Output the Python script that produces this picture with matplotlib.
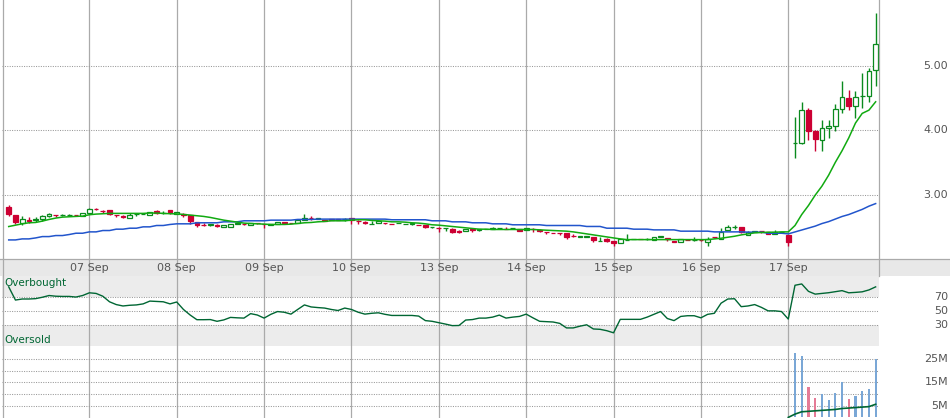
import matplotlib
matplotlib.use("Agg")
import matplotlib.pyplot as plt
import matplotlib.transforms as mtransforms
from matplotlib.lines import Line2D
from matplotlib.patches import Rectangle
import numpy as np

# half-hour candles, 13 per session
opens = [
    2.807, 2.676, 2.557, 2.609, 2.598, 2.614, 2.666, 2.690, 2.685, 2.685, 2.690, 2.666, 2.713,
    2.783, 2.748, 2.755, 2.690, 2.664, 2.640, 2.700, 2.700, 2.687, 2.744, 2.716, 2.755, 2.692,
    2.695, 2.676, 2.572, 2.533, 2.533, 2.522, 2.499, 2.494, 2.546, 2.550, 2.520, 2.565, 2.550,
    2.520, 2.536, 2.572, 2.565, 2.557, 2.609, 2.637, 2.624, 2.598, 2.614, 2.614, 2.622, 2.640,
    2.592, 2.568, 2.544, 2.562, 2.565, 2.550, 2.560, 2.546, 2.536, 2.533, 2.520, 2.492, 2.484,
    2.480, 2.458, 2.430, 2.432, 2.460, 2.455, 2.458, 2.458, 2.480, 2.460, 2.482, 2.468, 2.452,
    2.470, 2.444, 2.418, 2.408, 2.408, 2.400, 2.364, 2.348, 2.348, 2.348, 2.275, 2.312, 2.286,
    2.244, 2.298, 2.310, 2.314, 2.310, 2.302, 2.338, 2.322, 2.273, 2.270, 2.298, 2.294, 2.298,
    2.260, 2.340, 2.312, 2.452, 2.492, 2.494, 2.380, 2.424, 2.434, 2.416, 2.390, 2.414, 2.374,
    3.795, 3.795, 4.310, 3.990, 3.840, 4.030, 4.060, 4.330, 4.500, 4.370, 4.525, 4.530, 4.930,
]
highs = [
    2.838, 2.676, 2.661, 2.650, 2.650, 2.676, 2.718, 2.690, 2.702, 2.702, 2.690, 2.713, 2.791,
    2.786, 2.765, 2.755, 2.690, 2.676, 2.718, 2.703, 2.705, 2.728, 2.755, 2.744, 2.755, 2.728,
    2.718, 2.676, 2.572, 2.562, 2.536, 2.546, 2.520, 2.536, 2.562, 2.550, 2.562, 2.565, 2.550,
    2.550, 2.572, 2.572, 2.565, 2.624, 2.692, 2.671, 2.640, 2.598, 2.614, 2.614, 2.640, 2.640,
    2.609, 2.588, 2.588, 2.588, 2.565, 2.550, 2.563, 2.549, 2.562, 2.533, 2.520, 2.495, 2.494,
    2.484, 2.478, 2.452, 2.458, 2.460, 2.468, 2.468, 2.494, 2.484, 2.494, 2.485, 2.468, 2.484,
    2.484, 2.468, 2.418, 2.408, 2.408, 2.400, 2.390, 2.351, 2.351, 2.348, 2.338, 2.322, 2.286,
    2.312, 2.390, 2.313, 2.314, 2.322, 2.338, 2.364, 2.322, 2.273, 2.312, 2.298, 2.348, 2.312,
    2.338, 2.348, 2.484, 2.520, 2.520, 2.494, 2.442, 2.428, 2.442, 2.416, 2.452, 2.417, 2.374,
    4.200, 4.440, 4.350, 4.000, 4.160, 4.160, 4.400, 4.770, 4.620, 4.610, 4.880, 4.960, 5.820,
]
lows = [
    2.661, 2.541, 2.520, 2.562, 2.572, 2.588, 2.650, 2.650, 2.661, 2.661, 2.666, 2.661, 2.702,
    2.755, 2.718, 2.676, 2.650, 2.640, 2.640, 2.666, 2.695, 2.687, 2.702, 2.702, 2.702, 2.692,
    2.650, 2.546, 2.494, 2.510, 2.515, 2.494, 2.499, 2.494, 2.540, 2.520, 2.520, 2.546, 2.478,
    2.520, 2.536, 2.536, 2.555, 2.557, 2.609, 2.598, 2.624, 2.585, 2.598, 2.598, 2.588, 2.546,
    2.536, 2.536, 2.544, 2.560, 2.536, 2.546, 2.560, 2.546, 2.520, 2.525, 2.478, 2.478, 2.416,
    2.432, 2.400, 2.400, 2.432, 2.416, 2.432, 2.458, 2.458, 2.480, 2.458, 2.458, 2.442, 2.452,
    2.416, 2.416, 2.390, 2.400, 2.380, 2.307, 2.338, 2.338, 2.345, 2.270, 2.275, 2.260, 2.208,
    2.244, 2.296, 2.307, 2.310, 2.302, 2.302, 2.338, 2.275, 2.270, 2.270, 2.294, 2.275, 2.275,
    2.208, 2.322, 2.312, 2.452, 2.468, 2.400, 2.380, 2.420, 2.400, 2.390, 2.390, 2.414, 2.208,
    3.570, 3.780, 3.850, 3.680, 3.680, 3.880, 3.980, 4.270, 4.320, 4.190, 4.350, 4.440, 4.690,
]
closes = [
    2.702, 2.572, 2.624, 2.588, 2.624, 2.666, 2.692, 2.685, 2.690, 2.690, 2.685, 2.713, 2.781,
    2.776, 2.740, 2.692, 2.684, 2.658, 2.687, 2.703, 2.703, 2.728, 2.718, 2.719, 2.728, 2.728,
    2.690, 2.588, 2.531, 2.528, 2.536, 2.518, 2.520, 2.536, 2.562, 2.546, 2.562, 2.560, 2.546,
    2.546, 2.572, 2.552, 2.562, 2.609, 2.635, 2.632, 2.640, 2.588, 2.598, 2.598, 2.626, 2.609,
    2.588, 2.562, 2.548, 2.588, 2.560, 2.546, 2.563, 2.549, 2.562, 2.528, 2.494, 2.495, 2.480,
    2.484, 2.421, 2.425, 2.458, 2.455, 2.458, 2.468, 2.478, 2.484, 2.458, 2.485, 2.442, 2.484,
    2.466, 2.440, 2.414, 2.404, 2.404, 2.348, 2.360, 2.351, 2.351, 2.296, 2.279, 2.275, 2.244,
    2.312, 2.302, 2.313, 2.310, 2.313, 2.338, 2.364, 2.318, 2.270, 2.312, 2.294, 2.297, 2.294,
    2.312, 2.335, 2.426, 2.494, 2.496, 2.416, 2.426, 2.428, 2.430, 2.390, 2.416, 2.417, 2.260,
    3.800, 4.310, 3.980, 3.870, 4.030, 4.070, 4.330, 4.510, 4.380, 4.520, 4.530, 4.920, 5.330,
]
ma_fast = [
    2.504, 2.525, 2.546, 2.562, 2.567, 2.588, 2.614, 2.635, 2.650, 2.656, 2.661, 2.666, 2.687,
    2.697, 2.702, 2.708, 2.708, 2.708, 2.708, 2.708, 2.708, 2.713, 2.713, 2.708, 2.703, 2.700,
    2.692, 2.682, 2.671, 2.661, 2.645, 2.624, 2.603, 2.588, 2.572, 2.557, 2.551, 2.546, 2.541,
    2.536, 2.536, 2.536, 2.541, 2.551, 2.562, 2.567, 2.577, 2.583, 2.593, 2.593, 2.593, 2.603,
    2.609, 2.609, 2.598, 2.593, 2.588, 2.577, 2.577, 2.572, 2.562, 2.557, 2.546, 2.531, 2.525,
    2.515, 2.504, 2.494, 2.484, 2.473, 2.463, 2.463, 2.458, 2.458, 2.458, 2.458, 2.458, 2.458,
    2.458, 2.452, 2.447, 2.442, 2.437, 2.432, 2.421, 2.406, 2.390, 2.374, 2.359, 2.343, 2.327,
    2.312, 2.301, 2.301, 2.301, 2.301, 2.301, 2.301, 2.301, 2.301, 2.301, 2.301, 2.301, 2.301,
    2.301, 2.312, 2.322, 2.338, 2.353, 2.374, 2.390, 2.406, 2.411, 2.416, 2.416, 2.421, 2.421,
    2.520, 2.690, 2.830, 2.990, 3.130, 3.300, 3.500, 3.680, 3.880, 4.110, 4.260, 4.310, 4.440,
]
ma_slow = [
    2.296, 2.296, 2.312, 2.312, 2.327, 2.348, 2.348, 2.364, 2.364, 2.380, 2.400, 2.400, 2.421,
    2.421, 2.442, 2.442, 2.463, 2.463, 2.478, 2.478, 2.499, 2.499, 2.520, 2.520, 2.536, 2.546,
    2.546, 2.546, 2.562, 2.562, 2.562, 2.562, 2.577, 2.577, 2.577, 2.593, 2.593, 2.593, 2.593,
    2.603, 2.603, 2.603, 2.603, 2.614, 2.614, 2.614, 2.619, 2.619, 2.619, 2.619, 2.619, 2.619,
    2.619, 2.619, 2.619, 2.619, 2.619, 2.609, 2.609, 2.609, 2.609, 2.609, 2.609, 2.593, 2.593,
    2.593, 2.577, 2.577, 2.577, 2.562, 2.562, 2.562, 2.546, 2.546, 2.546, 2.531, 2.531, 2.531,
    2.531, 2.531, 2.520, 2.520, 2.520, 2.520, 2.520, 2.520, 2.505, 2.505, 2.505, 2.478, 2.478,
    2.478, 2.478, 2.463, 2.463, 2.463, 2.452, 2.452, 2.452, 2.452, 2.432, 2.432, 2.432, 2.432,
    2.432, 2.421, 2.421, 2.421, 2.421, 2.421, 2.416, 2.416, 2.416, 2.400, 2.400, 2.400, 2.390,
    2.420, 2.450, 2.480, 2.510, 2.550, 2.580, 2.620, 2.660, 2.690, 2.730, 2.770, 2.820, 2.860,
]
rsi = [
    84.4, 65.5, 67.0, 67.0, 67.5, 69.5, 72.0, 71.0, 70.7, 70.7, 69.8, 72.0, 75.9,
    75.0, 71.0, 63.0, 59.0, 57.0, 58.0, 58.5, 60.0, 64.0, 63.5, 63.0, 60.0, 62.7,
    52.0, 44.0, 37.3, 37.3, 37.5, 35.0, 37.0, 40.6, 40.0, 39.6, 46.0, 44.0, 39.6,
    45.0, 49.0, 48.0, 45.3, 52.0, 58.5, 55.6, 54.7, 54.0, 52.0, 50.5, 54.0, 52.0,
    48.0, 45.3, 46.5, 47.2, 45.0, 43.4, 43.4, 43.4, 43.4, 42.5, 36.0, 35.0, 33.0,
    31.0, 28.8, 29.0, 36.8, 37.5, 39.6, 39.6, 41.0, 43.9, 39.6, 41.0, 42.0, 45.3,
    40.0, 35.0, 34.5, 34.0, 32.0, 25.5, 25.5, 28.0, 30.0, 24.0, 23.5, 21.5, 18.5,
    37.8, 37.8, 37.8, 37.8, 41.0, 45.0, 49.0, 39.0, 36.0, 42.0, 43.0, 43.0, 40.0,
    45.0, 46.5, 61.0, 67.0, 67.4, 56.0, 57.0, 59.0, 55.0, 50.0, 50.0, 49.0, 38.2,
    86.7, 88.6, 78.0, 74.0, 75.0, 76.0, 77.5, 79.0, 75.9, 76.5, 77.3, 80.0, 84.4,
]
# volume in millions
volume = [
    0.3, 0.3, 0.3, 0.3, 0.3, 0.3, 0.3, 0.3, 0.3, 0.3, 0.3, 0.3, 0.3,
    0.3, 0.3, 0.3, 0.3, 0.3, 0.3, 0.3, 0.3, 0.3, 0.3, 0.3, 0.3, 0.3,
    0.3, 0.3, 0.3, 0.3, 0.3, 0.3, 0.3, 0.3, 0.3, 0.3, 0.3, 0.3, 0.3,
    0.3, 0.3, 0.3, 0.3, 0.3, 0.3, 0.3, 0.3, 0.3, 0.3, 0.3, 0.3, 0.3,
    0.3, 0.3, 0.3, 0.3, 0.3, 0.3, 0.3, 0.3, 0.3, 0.3, 0.3, 0.3, 0.3,
    0.3, 0.3, 0.3, 0.3, 0.3, 0.3, 0.3, 0.3, 0.3, 0.3, 0.3, 0.3, 0.3,
    0.3, 0.3, 0.3, 0.3, 0.3, 0.3, 0.3, 0.3, 0.3, 0.3, 0.3, 0.3, 0.3,
    0.3, 0.3, 0.3, 0.3, 0.3, 0.3, 0.3, 0.3, 0.3, 0.3, 0.3, 0.3, 0.3,
    0.3, 0.3, 0.3, 0.3, 0.3, 0.3, 0.3, 0.3, 0.3, 0.3, 0.3, 0.3, 0.3,
    27.6, 26.4, 13.0, 8.2, 10.0, 7.4, 10.6, 15.1, 7.9, 9.1, 11.4, 12.3, 24.8,
]
# volume average, from the last candle of 16 Sep on
vol_ma = [0.0, 1.4, 2.4, 2.6, 2.8, 3.0, 3.2, 3.4, 3.8, 4.0, 4.2, 4.4, 4.6, 5.6]

day_labels = ["07 Sep", "08 Sep", "09 Sep", "10 Sep", "13 Sep",
              "14 Sep", "15 Sep", "16 Sep", "17 Sep"]
price_ticks = [3, 4, 5]
rsi_ticks = [70, 50, 30]
vol_ticks = [25, 15, 5]

W, H = 950, 418
opens, highs, lows, closes = map(np.array, (opens, highs, lows, closes))
x = np.arange(1, len(closes) + 1)
day_pos = [13 * (i + 1) for i in range(len(day_labels))]

GRID = "#aaaaaa"
TXT = "#555555"
DOT = dict(color="#999999", lw=0.75, ls=(0, (1, 1.3)), zorder=1)


def box(x0, y0, x1, y1):
    # pixel box (top-left origin) -> figure fraction
    return [x0 / W, 1 - y1 / H, (x1 - x0) / W, (y1 - y0) / H]


fig = plt.figure(figsize=(W / 100, H / 100), dpi=100)
fig.patches.append(Rectangle((0, 1 - 276 / H), 1, 17 / H, transform=fig.transFigure,
                             facecolor="#e8e8e8", edgecolor="none", zorder=-1))

ax_p = fig.add_axes(box(2, 0, 879, 259))
ax_d = fig.add_axes(box(2, 259, 879, 276))
ax_r = fig.add_axes(box(2, 276, 879, 345.7))
ax_v = fig.add_axes(box(2, 345.7, 879, 418))
for ax in (ax_p, ax_d, ax_r, ax_v):
    ax.set_axis_off()
    ax.set_xlim(0, 130.5)
    for d in day_pos:
        ax.axvline(d, color=GRID, lw=0.9, zorder=1)

# frame lines
fig.add_artist(Line2D([0, 1], [1 - 259 / H] * 2, color=GRID, lw=0.9))
fig.add_artist(Line2D([2.5 / W] * 2, [0, 1], color=GRID, lw=0.9))
fig.add_artist(Line2D([879 / W] * 2, [1 - 276 / H, 1], color=GRID, lw=0.9))

# price panel
ax_p.set_ylim(2.0, 6.02)
for v in price_ticks:
    ax_p.axhline(v, **DOT)
up = closes >= opens
cols = np.where(up, "#0a8a1e", "#cc0033")
faces = np.where(up, "white", "#cc0033")
ax_p.vlines(x, lows, highs, colors=cols, lw=1.0, zorder=3)
ax_p.bar(x, np.maximum(np.abs(closes - opens), 0.002), bottom=np.minimum(opens, closes),
         width=0.7, facecolor=faces, edgecolor=cols, linewidth=0.9, zorder=4)
ax_p.plot(x, ma_slow, color="#2255cc", lw=1.1, zorder=5)
ax_p.plot(x, ma_fast, color="#11aa11", lw=1.1, zorder=5)
tr = mtransforms.blended_transform_factory(fig.transFigure, ax_p.transData)
for v in price_ticks:
    ax_p.text(948 / W, v, f"{v:.2f}", transform=tr, ha="right", va="center",
              fontsize=8, color=TXT)

# date band
trd = mtransforms.blended_transform_factory(ax_d.transData, ax_d.transAxes)
for d, lab in zip(day_pos, day_labels):
    ax_d.text(d, 0.48, lab, transform=trd, ha="center", va="center", fontsize=8, color=TXT)

# RSI panel
ax_r.set_ylim(0, 100)
ax_r.axhspan(70, 100, color="#ececec", lw=0, zorder=0)
ax_r.axhspan(0, 30, color="#ececec", lw=0, zorder=0)
for v in rsi_ticks:
    ax_r.axhline(v, **DOT)
ax_r.plot(x, rsi, color="#006633", lw=1.0, zorder=4)
trr = mtransforms.blended_transform_factory(ax_r.transAxes, ax_r.transData)
ax_r.text(0.003, 90, "Overbought", transform=trr, ha="left", va="center",
          fontsize=7.5, color="#006633")
ax_r.text(0.003, 7.5, "Oversold", transform=trr, ha="left", va="center",
          fontsize=7.5, color="#006633")
tr = mtransforms.blended_transform_factory(fig.transFigure, ax_r.transData)
for v in rsi_ticks:
    ax_r.text(948 / W, v, str(v), transform=tr, ha="right", va="center", fontsize=8, color=TXT)

# volume panel
ax_v.set_ylim(-0.26, 30.64)
for v in [5, 10, 15, 20, 25]:
    ax_v.axhline(v, **DOT)
vcols = np.where(up, "#7aa7d6", "#e57b96")
ax_v.bar(x, volume, width=0.32, color=vcols, zorder=3)
ax_v.plot(x[116:], vol_ma, color="#006633", lw=1.2, zorder=4)
tr = mtransforms.blended_transform_factory(fig.transFigure, ax_v.transData)
for v in vol_ticks:
    ax_v.text(948 / W, v, f"{v}M", transform=tr, ha="right", va="center", fontsize=8, color=TXT)

fig.savefig("out.png", dpi=100)
